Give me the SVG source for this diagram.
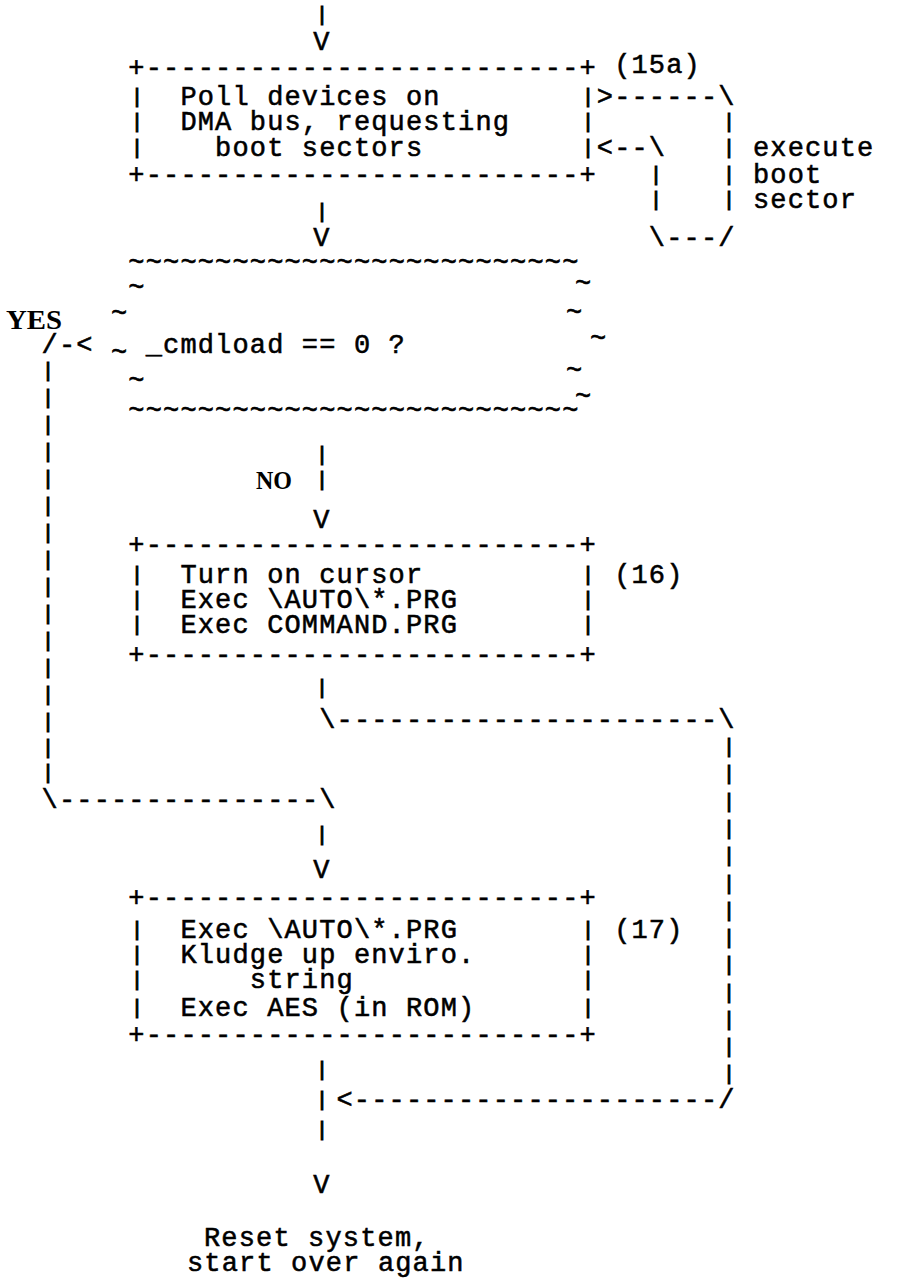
<svg xmlns="http://www.w3.org/2000/svg" width="898" height="1288" viewBox="0 0 898 1288">
<style>
.m{font-family:"Liberation Mono","Courier New",monospace;font-size:27px;letter-spacing:1.15px;fill:#000;stroke:#000;stroke-width:0.55;white-space:pre}
.b{font-family:"Liberation Mono","Courier New",monospace;font-size:20px;fill:#000;stroke:#000;stroke-width:1.1;text-anchor:middle}
.y{font-family:"Liberation Serif","Times New Roman",serif;font-weight:bold;font-size:28px;fill:#000}
.n{font-family:"Liberation Serif","Times New Roman",serif;font-weight:bold;font-size:26px;fill:#000}
</style>
<rect width="898" height="1288" fill="#fff"/>

<g id="node-poll">
<text class="m" x="128.35" y="76">+-------------------------+</text>
<text class="b" x="137" y="103">|</text><text class="b" x="588" y="103">|</text>
<text class="b" x="137" y="128">|</text><text class="b" x="588" y="128">|</text>
<text class="b" x="137" y="154">|</text><text class="b" x="588" y="154">|</text>
<text class="m" x="180.4" y="105">Poll devices on</text>
<text class="m" x="180.4" y="130">DMA bus, requesting</text>
<text class="m" x="215.1" y="156">boot sectors</text>
<text class="m" x="128.35" y="183">+-------------------------+</text>
<text class="m" x="614.15" y="73">(15a)</text>
</g>

<g id="node-cmdload">
<text class="m" x="128.35" y="271">~~~~~~~~~~~~~~~~~~~~~~~~~~</text>
<text class="m" x="128.35" y="296">~</text><text class="m" x="575" y="292">~</text>
<text class="m" x="111" y="322">~</text><text class="m" x="566" y="321">~</text>
<text class="m" x="590" y="347">~</text>
<text class="m" x="145.7" y="353">_cmdload == 0 ?</text>
<text class="m" x="111" y="361">~</text><text class="m" x="566" y="379">~</text>
<text class="m" x="128.35" y="389">~</text><text class="m" x="575" y="405">~</text>
<text class="m" x="128.35" y="419">~~~~~~~~~~~~~~~~~~~~~~~~~~</text>
</g>

<g id="node-cursor">
<text class="m" x="128.35" y="553">+-------------------------+</text>
<text class="b" x="137" y="581">|</text><text class="b" x="588" y="581">|</text>
<text class="b" x="137" y="606">|</text><text class="b" x="588" y="606">|</text>
<text class="b" x="137" y="631">|</text><text class="b" x="588" y="631">|</text>
<text class="m" x="180.4" y="583">Turn on cursor</text>
<text class="m" x="180.4" y="608">Exec \AUTO\*.PRG</text>
<text class="m" x="180.4" y="633">Exec COMMAND.PRG</text>
<text class="m" x="128.35" y="663">+-------------------------+</text>
<text class="m" x="614.15" y="583">(16)</text>
</g>

<g id="node-aes">
<text class="m" x="128.35" y="906">+-------------------------+</text>
<text class="b" x="137" y="936">|</text><text class="b" x="588" y="936">|</text>
<text class="b" x="137" y="961">|</text><text class="b" x="588" y="961">|</text>
<text class="b" x="137" y="986">|</text><text class="b" x="588" y="986">|</text>
<text class="b" x="137" y="1014">|</text><text class="b" x="588" y="1014">|</text>
<text class="m" x="180.4" y="938">Exec \AUTO\*.PRG</text>
<text class="m" x="180.4" y="963">Kludge up enviro.</text>
<text class="m" x="249.8" y="988">string</text>
<text class="m" x="180.4" y="1016">Exec AES (in ROM)</text>
<text class="m" x="128.35" y="1043">+-------------------------+</text>
<text class="m" x="614.15" y="938">(17)</text>
</g>

<g id="node-reset">
<text class="m" x="204" y="1246">Reset system,</text>
<text class="m" x="187" y="1271">start over again</text>
</g>

<g id="label-execute">
<text class="m" x="752.95" y="156">execute</text>
<text class="m" x="752.95" y="183">boot</text>
<text class="m" x="752.95" y="208">sector</text>
</g>

<g id="connectors">
<text class="b" x="322" y="21">|</text>
<text class="m" x="322" y="50" text-anchor="middle">V</text>

<text class="m" x="596.8" y="105">&gt;------\</text>
<text class="b" x="729" y="128">|</text><text class="b" x="729" y="154">|</text><text class="b" x="729" y="181">|</text><text class="b" x="729" y="206">|</text>
<text class="m" x="596.8" y="156">&lt;--\</text>
<text class="b" x="656" y="181">|</text><text class="b" x="656" y="206">|</text>
<text class="m" x="648.85" y="246">\---/</text>

<text class="b" x="322" y="218">|</text>
<text class="m" x="322" y="246" text-anchor="middle">V</text>

<text class="y" x="6" y="329" textLength="56" lengthAdjust="spacingAndGlyphs">YES</text>
<text class="m" x="41.6" y="353">/-&lt;</text>
<text class="b" x="48" y="377">|</text><text class="b" x="48" y="404">|</text><text class="b" x="48" y="431">|</text><text class="b" x="48" y="458">|</text><text class="b" x="48" y="485">|</text><text class="b" x="48" y="512">|</text><text class="b" x="48" y="539">|</text><text class="b" x="48" y="566">|</text><text class="b" x="48" y="593">|</text><text class="b" x="48" y="620">|</text><text class="b" x="48" y="647">|</text><text class="b" x="48" y="674">|</text><text class="b" x="48" y="701">|</text><text class="b" x="48" y="728">|</text><text class="b" x="48" y="754">|</text><text class="b" x="48" y="779">|</text>
<text class="m" x="41.6" y="808">\---------------\</text>

<text class="b" x="322" y="461">|</text>
<text class="n" x="256" y="489" textLength="36" lengthAdjust="spacingAndGlyphs">NO</text>
<text class="b" x="322" y="486">|</text>
<text class="m" x="322" y="528" text-anchor="middle">V</text>

<text class="b" x="322" y="694">|</text>
<text class="m" x="319.2" y="728">\----------------------\</text>
<text class="b" x="729" y="753">|</text><text class="b" x="729" y="780">|</text><text class="b" x="729" y="808">|</text><text class="b" x="729" y="835">|</text><text class="b" x="729" y="862">|</text><text class="b" x="729" y="890">|</text><text class="b" x="729" y="917">|</text><text class="b" x="729" y="944">|</text><text class="b" x="729" y="971">|</text><text class="b" x="729" y="999">|</text><text class="b" x="729" y="1026">|</text><text class="b" x="729" y="1053">|</text><text class="b" x="729" y="1080">|</text>
<text class="b" x="322" y="841">|</text>
<text class="m" x="322" y="878" text-anchor="middle">V</text>

<text class="b" x="322" y="1076">|</text>
<text class="b" x="322" y="1106">|</text>
<text class="m" x="336.5" y="1108">&lt;---------------------/</text>
<text class="b" x="322" y="1136">|</text>
<text class="m" x="322" y="1193" text-anchor="middle">V</text>
</g>
</svg>
